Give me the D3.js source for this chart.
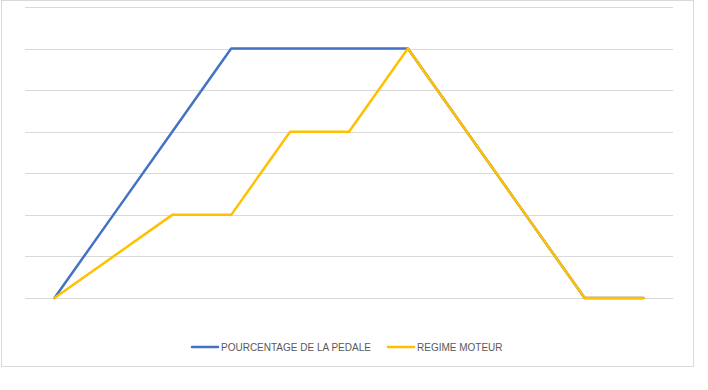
<!DOCTYPE html>
<html>
<head>
<meta charset="utf-8">
<script src="https://cdn.jsdelivr.net/npm/d3@7"></script>
<style>
  body { margin: 0; background: #fff; }
  svg { display: block; font-family: "Liberation Sans", Arial, sans-serif; }
</style>
</head>
<body>
<div id="chart"></div>
<script>
(function () {
    const width = 708;
    const height = 390;

    // categories are unlabeled in the source, one slot per step
    const steps = d3.range(11);
    const pedale = [0, 2, 4, 6, 6, 6, 6, 4, 2, 0, 0];
    const regime = [0, 1, 2, 2, 4, 4, 6, 4, 2, 0, 0];
    const yTicks = [0, 1, 2, 3, 4, 5, 6, 7];

    const seriesList = [
        { name: "POURCENTAGE DE LA PEDALE", values: pedale, color: "#4472C4" },
        { name: "REGIME MOTEUR", values: regime, color: "#FFC000" }
    ];

    const plot = { left: 25, right: 673, top: 7, bottom: 298 };

    const svg = d3.select("#chart")
        .append("svg")
        .attr("width", width)
        .attr("height", height);

    // chart border
    svg.append("rect")
        .attr("x", 1.5)
        .attr("y", 0.5)
        .attr("width", 692)
        .attr("height", 366)
        .attr("fill", "white")
        .attr("stroke", "#d9d9d9")
        .attr("stroke-width", 1);

    const xScale = d3.scaleBand()
        .domain(steps)
        .range([plot.left, plot.right]);

    const yScale = d3.scaleLinear()
        .domain([0, 7])
        .range([plot.bottom, plot.top]);

    // horizontal gridlines
    svg.append("g")
        .selectAll("line")
        .data(yTicks)
        .enter()
        .append("line")
        .attr("x1", plot.left)
        .attr("x2", plot.right)
        .attr("y1", d => Math.round(yScale(d)) + 0.5)
        .attr("y2", d => Math.round(yScale(d)) + 0.5)
        .attr("stroke", "#d9d9d9")
        .attr("stroke-width", 1);

    const line = d3.line()
        .x((d, i) => xScale(steps[i]) + xScale.bandwidth() / 2)
        .y(d => yScale(d));

    seriesList.forEach(s => {
        svg.append("path")
            .datum(s.values)
            .attr("d", line)
            .attr("fill", "none")
            .attr("stroke", s.color)
            .attr("stroke-width", 2.5)
            .attr("stroke-linejoin", "round")
            .attr("stroke-linecap", "round");
    });

    // legend
    const legendX = [192, 388];
    seriesList.forEach((s, i) => {
        const g = svg.append("g")
            .attr("transform", `translate(${legendX[i]}, 347)`);
        g.append("line")
            .attr("x1", 0)
            .attr("x2", 26)
            .attr("stroke", s.color)
            .attr("stroke-width", 2.5)
            .attr("stroke-linecap", "round");
        g.append("text")
            .attr("x", 29)
            .attr("y", 4)
            .attr("fill", "#595959")
            .style("font-size", "10px")
            .text(s.name);
    });
})();
</script>
</body>
</html>
